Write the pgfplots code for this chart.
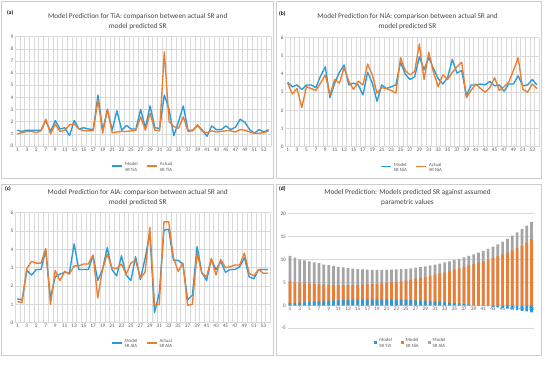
\documentclass[border=0pt]{standalone}
\usepackage{fontspec}
\setmainfont{Carlito}
\usepackage{pgfplots}
\pgfplotsset{compat=1.18}
\usepackage{pgfplotstable}

\definecolor{blueC}{RGB}{40,155,218}
\definecolor{orC}{RGB}{237,125,49}
\definecolor{grC}{RGB}{165,165,165}
\definecolor{gridC}{RGB}{217,217,217}
\definecolor{txtC}{RGB}{89,89,89}
\definecolor{titC}{RGB}{70,70,70}
\definecolor{frameC}{RGB}{205,205,205}

\pgfplotstableread{
x m a
1 1.30 1.00
2 1.20 1.10
3 1.30 1.20
4 1.30 1.20
5 1.30 1.10
6 1.30 1.25
7 2.10 2.20
8 1.20 1.00
9 2.10 1.80
10 1.40 1.20
11 1.50 1.30
12 0.85 1.75
13 2.10 1.80
14 1.40 1.40
15 1.50 1.25
16 1.40 1.25
17 1.35 1.25
18 4.20 3.80
19 1.30 1.05
20 3.00 3.05
21 1.30 1.10
22 2.90 1.15
23 1.30 1.20
24 1.70 1.20
25 1.40 1.25
26 1.40 1.30
27 3.00 2.40
28 1.50 1.30
29 3.30 2.70
30 1.50 1.30
31 1.45 1.25
32 4.20 7.75
33 3.00 2.00
34 0.85 1.60
35 2.00 1.45
36 3.30 2.40
37 1.30 1.20
38 1.30 1.25
39 1.70 1.75
40 1.30 1.20
41 0.80 1.10
42 1.65 1.25
43 1.35 1.15
44 1.35 1.20
45 1.65 1.25
46 1.35 1.25
47 1.55 1.15
48 2.20 1.35
49 1.95 1.30
50 1.35 1.15
51 1.05 1.05
52 1.35 1.05
53 1.15 1.10
54 1.35 1.25
}\tia

\pgfplotstableread{
x m a
1 3.55 3.50
2 3.30 2.90
3 3.40 3.20
4 3.15 2.15
5 3.40 3.30
6 3.40 3.20
7 3.25 3.10
8 3.90 3.50
9 4.40 3.95
10 2.70 2.85
11 3.50 3.70
12 4.10 3.50
13 4.50 4.35
14 3.40 3.60
15 3.50 3.15
16 3.40 3.60
17 2.85 3.40
18 4.10 4.55
19 3.50 3.95
20 2.50 2.95
21 3.40 3.25
22 3.20 3.20
23 3.30 3.10
24 3.40 2.95
25 4.65 4.90
26 4.00 4.20
27 3.70 3.95
28 3.85 4.15
29 4.95 5.65
30 4.25 3.70
31 4.90 5.20
32 4.30 4.10
33 3.75 3.30
34 3.45 3.95
35 3.80 3.70
36 4.80 4.10
37 4.05 4.40
38 4.20 4.65
39 2.80 2.70
40 3.40 3.10
41 3.40 3.45
42 3.45 3.20
43 3.40 3.00
44 3.60 3.25
45 3.35 3.80
46 3.40 3.10
47 3.05 3.30
48 3.45 3.55
49 3.45 4.20
50 3.90 4.90
51 3.35 3.15
52 3.40 3.00
53 3.70 3.45
54 3.40 3.20
}\nia

\pgfplotstableread{
x m a
1 1.30 1.15
2 1.25 1.10
3 2.85 2.95
4 2.60 3.35
5 2.90 3.25
6 2.90 3.25
7 3.95 4.05
8 1.35 1.00
9 2.50 2.85
10 2.65 2.30
11 2.75 2.80
12 2.70 2.65
13 4.30 3.10
14 2.90 3.10
15 2.90 3.20
16 2.90 3.20
17 3.65 3.70
18 2.30 1.35
19 2.90 2.90
20 4.10 3.75
21 2.90 3.00
22 2.55 2.95
23 3.65 3.20
24 2.60 2.65
25 2.30 3.25
26 3.60 3.40
27 2.35 2.45
28 3.50 2.75
29 4.90 5.20
30 0.55 0.95
31 1.60 1.00
32 5.05 5.50
33 5.10 5.50
34 3.40 3.55
35 3.40 2.80
36 3.20 3.25
37 1.25 0.95
38 1.50 1.00
39 4.15 3.80
40 2.75 2.70
41 2.30 2.50
42 3.45 3.50
43 2.90 2.60
44 3.35 3.45
45 2.75 3.00
46 2.90 3.05
47 2.90 3.15
48 3.05 3.15
49 3.55 3.80
50 2.50 2.70
51 2.40 2.55
52 2.90 2.90
53 2.90 2.70
54 2.90 2.70
}\ala

% d: t = Model SR TiA, o = top of NiA segment, g = top of AlA segment
\pgfplotstableread{
x t o g
1 0.50 5.20 10.80
2 0.55 5.00 10.40
3 0.60 4.90 10.00
4 0.70 4.80 9.80
5 0.75 4.70 9.60
6 0.80 4.60 9.40
7 0.85 4.55 9.20
8 0.95 4.50 8.90
9 1.00 4.45 8.80
10 1.05 4.40 8.60
11 1.10 4.40 8.40
12 1.15 4.40 8.30
13 1.20 4.40 8.10
14 1.25 4.40 8.00
15 1.30 4.45 7.90
16 1.30 4.50 7.85
17 1.30 4.55 7.80
18 1.30 4.60 7.75
19 1.30 4.70 7.75
20 1.30 4.80 7.75
21 1.30 4.90 7.75
22 1.30 5.00 7.80
23 1.25 5.10 7.85
24 1.25 5.25 7.90
25 1.20 5.40 7.95
26 1.15 5.60 8.05
27 1.10 5.80 8.20
28 1.05 6.00 8.35
29 1.00 6.20 8.50
30 0.95 6.45 8.70
31 0.85 6.70 8.90
32 0.80 6.95 9.10
33 0.70 7.20 9.35
34 0.60 7.50 9.60
35 0.50 7.80 9.90
36 0.40 8.10 10.15
37 0.30 8.40 10.45
38 0.20 8.70 10.80
39 0.10 9.00 11.10
40 0.02 9.30 11.50
41 -0.10 9.60 11.90
42 -0.20 9.95 12.30
43 -0.35 10.30 12.80
44 -0.45 10.70 13.30
45 -0.60 11.10 13.90
46 -0.75 11.50 14.50
47 -0.90 12.00 15.20
48 -1.05 12.50 15.90
49 -1.20 13.00 16.70
50 -1.35 13.70 17.40
51 -1.55 14.50 18.20
}\srd

\pgfplotsset{
  panel/.style={scale only axis, anchor=south west, enlargelimits=false,
    axis line style={draw=none}, major tick length=0pt, minor tick length=0pt,
    ymajorgrids, grid style={draw=gridC, line width=0.45bp},
    tick label style={font=\fontsize{5.3}{6}\selectfont, text=txtC},
    xticklabel style={inner sep=1.5bp},
    yticklabel style={inner sep=1.5bp},
    /pgf/number format/assume math mode=true,
    legend style={draw=none, fill=none, font=\fontsize{4.8}{5.5}\selectfont, text=txtC,
      legend columns=-1, cells={align=left}, inner sep=0pt,
      /tikz/every even column/.append style={column sep=7bp}},
  },
  linepanel/.style={panel, xmin=0.5, xmax=54.5, ymin=0,
    xtick={1,3,...,53}, minor xtick={0.5,1.5,...,54.5}, xminorgrids,
    minor grid style={draw=gridC, line width=0.45bp},
    legend image code/.code={\draw[##1] (0bp,1.5bp) -- (10bp,1.5bp);},
    legend style={at={(0.5,-0.13)}, anchor=north}},
  barpanel/.style={panel,
    legend image code/.code={\path[##1] (0bp,0bp) rectangle (3bp,3bp);},
    legend style={at={(0.5,-0.07)}, anchor=north}},
  lm/.style={blueC, line width=1.35bp, mark=none, line join=round},
  la/.style={orC, line width=1.35bp, mark=none, line join=round},
}

\begin{document}
\begin{tikzpicture}[x=1bp,y=1bp]
\useasboundingbox[fill=white] (0,0) rectangle (550,364);
% panel frames
\draw[frameC, line width=0.6bp] (1.5,186) rectangle (273,362.5);
\draw[frameC, line width=0.6bp] (276,186) rectangle (541,362.5);
\draw[frameC, line width=0.6bp] (1.5,9) rectangle (273,180);
\draw[frameC, line width=0.6bp] (276,9) rectangle (541,180);

% (a)
\begin{axis}[linepanel, at={(15bp,218bp)}, width=256bp, height=109.3bp, ymax=9, ytick={0,1,...,9}]
\addplot[lm] table[x=x,y=m]{\tia};
\addplot[la] table[x=x,y=a]{\tia};
\addlegendentry{Model\\SR TiA}
\addlegendentry{Actual\\SR TiA}
\end{axis}

% (b)
\begin{axis}[linepanel, at={(285.3bp,217.3bp)}, width=254bp, height=109bp, ymax=6, ytick={0,1,...,6}]
\addplot[lm] table[x=x,y=m]{\nia};
\addplot[la] table[x=x,y=a]{\nia};
\addlegendentry{Model\\SR NiA}
\addlegendentry{Actual\\SR NiA}
\end{axis}

% (c)
\begin{axis}[linepanel, at={(15bp,41.3bp)}, width=255.4bp, height=110bp, ymax=6, ytick={0,1,...,6}]
\addplot[lm] table[x=x,y=m]{\ala};
\addplot[la] table[x=x,y=a]{\ala};
\addlegendentry{Model\\SR AlA}
\addlegendentry{Actual\\SR AlA}
\end{axis}

% (d)
\begin{axis}[barpanel, at={(287.6bp,35.8bp)}, width=246.4bp, height=114.5bp,
  xmin=0.5, xmax=51.5, ymin=-5, ymax=20, ytick={-5,0,...,20}, xtick={1,3,...,51},
  axis x line*=middle, axis y line*=left, axis line style={draw=none},
  hide obscured x ticks=false, hide obscured y ticks=false]
\addlegendimage{fill=blueC, draw=none}
\addlegendimage{fill=orC, draw=none}
\addlegendimage{fill=grC, draw=none}
\addplot[ybar, bar width=2.7bp, bar shift=0pt, fill=grC, draw=none, forget plot] table[x=x,y=g]{\srd};
\addplot[ybar, bar width=2.7bp, bar shift=0pt, fill=orC, draw=none, forget plot] table[x=x,y=o]{\srd};
\addplot[ybar, bar width=2.7bp, bar shift=0pt, fill=blueC, draw=none, forget plot] table[x=x,y=t]{\srd};
\addlegendentry{Model\\SR TiA}
\addlegendentry{Model\\SR NiA}
\addlegendentry{Model\\SR AlA}
\end{axis}

% titles and panel labels
\begin{scope}[every node/.style={font=\fontsize{7.3}{10.3}\selectfont, text=titC, align=center}]
\node at (137.7,342.7) {Model Prediction for TiA: comparison between actual SR and\\model predicted SR};
\node at (407.5,342.7) {Model Prediction for NiA: comparison between actual SR and\\model predicted SR};
\node at (137.7,166.5) {Model Prediction for AlA: comparison between actual SR and\\model predicted SR};
\node at (407.5,166.5) {Model Prediction: Models predicted SR against assumed\\parametric values};
\end{scope}
\begin{scope}[every node/.style={font=\bfseries\fontsize{5.5}{6}\selectfont, text=black, anchor=west, inner sep=0pt}]
\node at (7,351) {(a)};
\node at (279,350) {(b)};
\node at (5,175) {(c)};
\node at (279,175) {(d)};
\end{scope}
\end{tikzpicture}
\end{document}
